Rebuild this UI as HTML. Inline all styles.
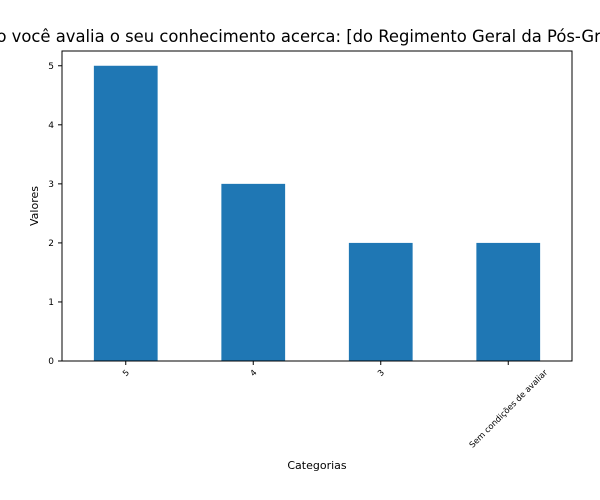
<!DOCTYPE html>
<html><head><meta charset="utf-8"><style>body{margin:0;background:#fff}svg{display:block;font-family:"DejaVu Sans","Liberation Sans",sans-serif}</style></head>
<body>
<svg id="chart" width="600" height="500">
<text x="-41" y="42" font-size="16.4">Como você avalia o seu conhecimento acerca: [do Regimento Geral da Pós-Graduação]</text>
<g id="bars"></g>
<rect x="62" y="51" width="510" height="310" fill="none" stroke="#000" stroke-width="1"/>
<g id="yticks" font-size="9"></g>
<g id="xticks" font-size="8.3"></g>
<text x="317" y="469" font-size="11" text-anchor="middle">Categorias</text>
<text transform="translate(38,206) rotate(-90)" font-size="11" text-anchor="middle">Valores</text>
</svg>
<script>
const categories=["5","4","3","Sem condições de avaliar"];
const values=[5,3,2,2];
const yTicks=[0,1,2,3,4,5];
const NS="http://www.w3.org/2000/svg";
const x0=62,x1=572,yb=361,yt=51;
const yMax=5.25;
function ys(v){return yb-(v/yMax)*(yb-yt);}
function xs(i){return x0+(i+0.5)/categories.length*(x1-x0);}
const bw=(x1-x0)/categories.length*0.5;
const bars=document.getElementById('bars');
values.forEach((v,i)=>{const r=document.createElementNS(NS,'rect');
r.setAttribute('x',xs(i)-bw/2);r.setAttribute('y',ys(v));r.setAttribute('width',bw);r.setAttribute('height',yb-ys(v));r.setAttribute('fill','#1f77b4');


bars.appendChild(r);});
const yg=document.getElementById('yticks');
yTicks.forEach(t=>{const y=ys(t);const l=document.createElementNS(NS,'line');
l.setAttribute('x1',58);l.setAttribute('x2',62);l.setAttribute('y1',y);l.setAttribute('y2',y);l.setAttribute('stroke','#000');


yg.appendChild(l);
const tx=document.createElementNS(NS,'text');tx.setAttribute('x',54);tx.setAttribute('y',y+3);tx.setAttribute('text-anchor','end');tx.textContent=t;


yg.appendChild(tx);});
const xg=document.getElementById('xticks');
categories.forEach((c,i)=>{const x=xs(i);const l=document.createElementNS(NS,'line');
l.setAttribute('x1',x);l.setAttribute('x2',x);l.setAttribute('y1',361);l.setAttribute('y2',365);l.setAttribute('stroke','#000');


xg.appendChild(l);
const tx=document.createElementNS(NS,'text');tx.setAttribute('text-anchor','middle');
tx.textContent=c;
tx.setAttribute('dy','0.35em');


xg.appendChild(tx);
const L=tx.getComputedTextLength();const h=8.3;
const boxH=(L+h)*0.7071;
tx.setAttribute('transform','translate('+x+','+(368+boxH/2)+') rotate(-45)');});
</script>
</body></html>
